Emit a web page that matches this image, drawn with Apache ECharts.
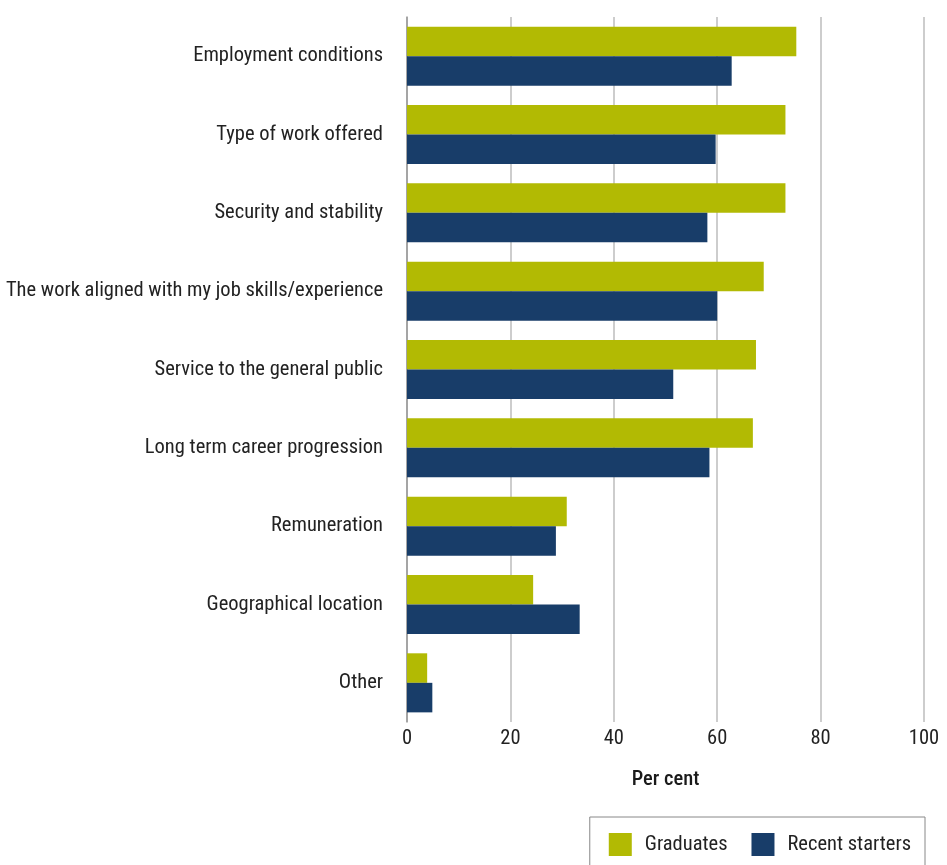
<!DOCTYPE html>
<html><head><meta charset="utf-8">
<script src="https://cdn.jsdelivr.net/npm/echarts@6/dist/echarts.min.js"></script>
<style>html,body{margin:0;padding:0;background:#fff}#c{width:947px;height:865px}</style>
</head><body><div id="c"></div>
<script>
const categories = ["Employment conditions","Type of work offered","Security and stability","The work aligned with my job skills/experience","Service to the general public","Long term career progression","Remuneration","Geographical location","Other"];
const graduates = [75.3, 73.2, 73.2, 69.0, 67.5, 66.9, 30.9, 24.4, 3.9];
const recentStarters = [62.8, 59.7, 58.1, 60.0, 51.5, 58.5, 28.8, 33.4, 4.9];
const xTicks = [0, 20, 40, 60, 80, 100];
const FONT = '"Liberation Sans Narrow","Roboto Condensed",Roboto,sans-serif';
const chart = echarts.init(document.getElementById('c'), null, {renderer:'canvas'});
chart.setOption({
  animation:false,
  textStyle:{fontFamily:FONT},
  grid:{left:407,right:23,top:17,bottom:143},
  legend:{
    bottom:-1, right:22, itemWidth:23, itemHeight:23, itemGap:24, icon:'rect',
    padding:[16,14,10,19], borderColor:'#888', borderWidth:1,
    textStyle:{fontFamily:FONT, fontSize:20.5, color:'#222', padding:[0,0,0,8]},
    data:['Graduates','Recent starters']
  },
  xAxis:{
    type:'value', min:xTicks[0], max:xTicks[xTicks.length-1], interval:20,
    name:'Per cent', nameLocation:'middle', nameGap:47,
    nameTextStyle:{fontFamily:FONT, fontSize:20.5, color:'#1a1a1a', fontWeight:500},
    axisLine:{show:false}, axisTick:{show:false},
    axisLabel:{fontFamily:FONT, fontSize:20.5, color:'#222', margin:6},
    splitLine:{lineStyle:{color:'#bdbdbd', width:1.5}}
  },
  yAxis:{
    type:'category', data:categories, inverse:true,
    axisLine:{show:true, lineStyle:{color:'#999', width:1.5}}, axisTick:{show:false},
    axisLabel:{fontFamily:FONT, fontSize:20.5, color:'#222', margin:24, padding:[0,0,7,0]}
  },
  series:[
    {name:'Graduates', type:'bar', data:graduates, barGap:'0%', barCategoryGap:'24.6%',
     itemStyle:{color:'#b2ba03'}},
    {name:'Recent starters', type:'bar', data:recentStarters,
     itemStyle:{color:'#183d69'}}
  ]
});
</script></body></html>
